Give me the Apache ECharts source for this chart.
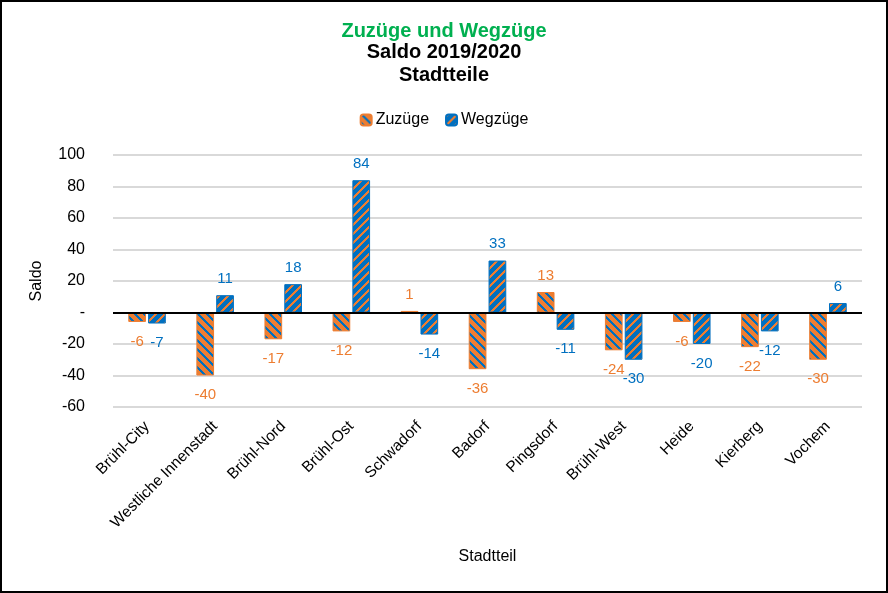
<!DOCTYPE html>
<html><head><meta charset="utf-8">
<script src="https://cdn.jsdelivr.net/npm/echarts@6/dist/echarts.min.js"></script>
<style>html,body{margin:0;padding:0;background:#fff}#c{width:888px;height:593px}</style>
</head><body><div id="c"></div>
<script>
const categories = ['Brühl-City','Westliche Innenstadt','Brühl-Nord','Brühl-Ost','Schwadorf','Badorf','Pingsdorf','Brühl-West','Heide','Kierberg','Vochem'];
const zuzuege = [-6, -40, -17, -12, 1, -36, 13, -24, -6, -22, -30];
const wegzuege = [-7, 11, 18, 84, -14, 33, -11, -30, -20, -12, 6];
const seriesNames = ['Zuzüge', 'Wegzüge'];

const ORANGE = '#ED7D31', BLUE = '#0070C0';
function makePattern(bg, fg, down) {
  const n = 9;
  const cv = document.createElement('canvas');
  cv.width = n; cv.height = n;
  const ctx = cv.getContext('2d');
  ctx.fillStyle = bg; ctx.fillRect(0, 0, n, n);
  ctx.fillStyle = fg;
  for (let y = 0; y < n; y++) for (let x = 0; x < n; x++) {
    const k = down ? (((x - y) % n) + n) % n : (x + y) % n;
    if (k < 3) ctx.fillRect(x, y, 1, 1);
  }
  return { image: cv, repeat: 'repeat' };
}
function items(arr) {
  return arr.map(v => ({ value: v, label: { position: v < 0 ? 'bottom' : 'top', distance: v < 0 ? 12 : 9 } }));
}
const chart = echarts.init(document.getElementById('c'), null, { renderer: 'canvas' });
chart.setOption({
  animation: false,
  title: {
    left: 'center', top: 16,
    text: 'Zuzüge und Wegzüge',
    subtext: 'Saldo 2019/2020\nStadtteile',
    itemGap: 0,
    textStyle: { color: '#00B050', fontFamily: 'Liberation Sans', fontWeight: 'bold', fontSize: 20 },
    subtextStyle: { color: '#000', fontFamily: 'Liberation Sans', fontWeight: 'bold', fontSize: 20, lineHeight: 23 }
  },
  legend: {
    top: 107, left: 'center', itemWidth: 11, itemHeight: 11, itemGap: 16,
    textStyle: { fontFamily: 'Liberation Sans', fontSize: 16, color: '#000', padding: [0,0,0,-1] },
    data: seriesNames
  },
  graphic: [{ type: 'rect', shape: { x: 1, y: 1, width: 886, height: 591 }, style: { fill: 'none', stroke: '#000', lineWidth: 2 }, silent: true }],
  grid: { left: 113, right: 26, top: 155, bottom: 186, containLabel: false },
  xAxis: {
    type: 'category', data: categories,
    name: 'Stadtteil', nameLocation: 'middle', nameGap: 142,
    nameTextStyle: { fontFamily: 'Liberation Sans', fontSize: 16, color: '#000' },
    axisLine: { show: false }, axisTick: { show: false },
    axisLabel: { rotate: 45, interval: 0, fontFamily: 'Liberation Sans', fontSize: 15.5, color: '#000', margin: 17 }
  },
  yAxis: {
    type: 'value', min: -60, max: 100, interval: 20,
    name: 'Saldo', nameLocation: 'middle', nameGap: 68,
    nameTextStyle: { fontFamily: 'Liberation Sans', fontSize: 16, color: '#000' },
    axisLine: { show: false }, axisTick: { show: false },
    axisLabel: { fontFamily: 'Liberation Sans', fontSize: 16, color: '#000', margin: 28,
      formatter: v => v === 0 ? '-' : String(v) },
    splitLine: { lineStyle: { color: '#D9D9D9', width: 2 } }
  },
  series: [
    { name: seriesNames[0], type: 'bar', data: items(zuzuege), barWidth: '26%', barGap: '12%',
      itemStyle: { color: makePattern(ORANGE, BLUE, true), borderColor: ORANGE, borderWidth: 1 },
      label: { show: true, color: ORANGE, fontFamily: 'Liberation Sans', fontSize: 15 },
      markLine: { silent: true, symbol: 'none', label: { show: false }, lineStyle: { color: '#000', width: 2, type: 'solid' }, data: [{ yAxis: 0 }] }
    },
    { name: seriesNames[1], type: 'bar', data: items(wegzuege), barWidth: '26%',
      itemStyle: { color: makePattern(BLUE, ORANGE, false), borderColor: BLUE, borderWidth: 1 },
      label: { show: true, color: BLUE, fontFamily: 'Liberation Sans', fontSize: 15 }
    }
  ]
});
</script></body></html>
